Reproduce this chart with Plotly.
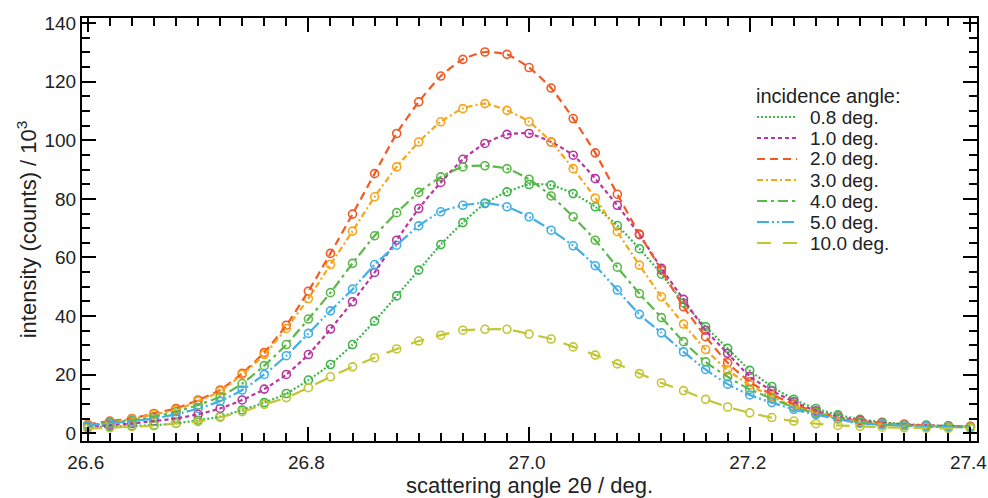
import plotly.graph_objects as go

# scattering angle grid (deg.)
two_theta = [round(26.60 + 0.02 * k, 2) for k in range(41)]

# measured intensities (counts / 10^3) for each incidence angle
inc_0p8 = [1.9, 2.3, 2.6, 2.8, 3.4, 4.5, 5.7, 8.0, 10.5, 13.6, 18.2, 23.5, 30.3, 38.3,
           46.9, 55.7, 64.4, 71.9, 78.4, 82.4, 84.9, 84.7, 81.8, 77.3,
           70.9, 63.0, 54.3, 44.5, 36.4, 29.0, 21.5, 16.0, 11.6, 8.5,
           6.3, 4.8, 3.8, 3.2, 2.8, 2.6, 2.4]
inc_1p0 = [2.3, 2.8, 3.4, 4.2, 5.1, 6.5, 8.5, 11.4, 15.1, 20.1, 26.9, 35.6, 44.9, 54.9,
           65.9, 76.7, 85.6, 93.5, 98.9, 102.0, 102.3, 99.4, 94.9, 86.9,
           77.8, 67.8, 56.3, 45.7, 35.2, 27.3, 19.5, 14.6, 10.8, 7.7,
           5.6, 4.4, 3.5, 3.0, 2.7, 2.5, 2.3]
inc_2p0 = [3.1, 4.2, 5.1, 6.8, 8.5, 11.4, 14.8, 20.5, 27.6, 36.9, 48.5, 61.4, 74.8, 88.6,
           102.3, 113.1, 121.9, 127.6, 130.1, 129.3, 124.8, 117.8, 107.4, 95.7,
           81.6, 68.0, 55.7, 43.2, 33.0, 24.1, 17.6, 13.3, 10.0, 7.3,
           5.4, 4.2, 3.4, 2.9, 2.6, 2.4, 2.3]
inc_3p0 = [2.8, 3.75, 4.9, 6.5, 8.0, 11.0, 14.4, 20.1, 26.9, 35.8, 46.0, 57.6, 69.0, 80.7,
           90.9, 99.4, 106.3, 110.8, 112.5, 110.2, 106.3, 99.4, 90.3, 80.3,
           68.8, 57.4, 46.6, 37.3, 28.6, 21.6, 16.5, 12.5, 9.2, 7.0,
           5.2, 3.9, 3.2, 2.8, 2.5, 2.3, 2.2]
inc_4p0 = [2.6, 3.75, 4.5, 5.7, 7.4, 9.7, 12.5, 17.0, 23.1, 30.3, 39.0, 48.0, 58.0, 67.4,
           75.3, 82.2, 87.5, 90.9, 91.3, 90.3, 86.7, 81.0, 73.9, 65.9,
           56.7, 47.7, 39.5, 31.3, 24.4, 19.3, 15.0, 11.9, 8.9, 6.9,
           5.1, 3.7, 3.0, 2.7, 2.4, 2.2, 2.1]
inc_5p0 = [2.6, 3.4, 4.2, 5.1, 6.5, 8.5, 11.0, 14.8, 20.1, 26.5, 34.1, 41.8, 49.2, 57.6,
           64.2, 70.8, 75.6, 77.8, 78.6, 77.3, 73.9, 69.3, 64.0, 57.2,
           48.9, 40.6, 34.3, 27.8, 21.8, 16.8, 13.1, 10.5, 8.2, 6.4,
           4.9, 3.4, 2.9, 2.6, 2.3, 2.1, 2.0]
inc_10p0 = [1.7, 1.9, 2.3, 2.6, 3.4, 4.0, 5.5, 7.4, 9.9, 12.2, 15.6, 19.3, 22.7, 25.8,
            28.8, 31.5, 33.5, 35.2, 35.5, 35.5, 33.9, 32.2, 29.5, 26.7,
            23.7, 20.4, 17.2, 14.6, 11.6, 9.0, 7.0, 5.4, 4.2, 3.3,
            2.7, 2.4, 2.1, 1.9, 1.8, 1.7, 1.7]

legend_title = "incidence angle:"
labels = ["0.8 deg.", "1.0 deg.", "2.0 deg.", "3.0 deg.", "4.0 deg.", "5.0 deg.", "10.0 deg."]
series = [inc_0p8, inc_1p0, inc_2p0, inc_3p0, inc_4p0, inc_5p0, inc_10p0]
colors = ["#3fb54b", "#b8369f", "#f25a24", "#f7a51c", "#5ab947", "#43afe6", "#c3c634"]
dashes = ["2px,2px", "4px,3px", "8px,5px", "6px,3px,2px,3px",
          "10px,4px,3px,4px", "12px,3px,2px,3px,2px,3px", "14px,12px"]

FONT = "Liberation Sans, Arial, Helvetica, sans-serif"
TXT = "#222222"

W, H = 988, 498
ML, MR, MT, MB = 82, 11, 18, 57
PW, PH = W - ML - MR, H - MT - MB


def px_to_paper(px, py):
    return (px - ML) / PW, 1 - (py - MT) / PH


fig = go.Figure()

# open-circle markers
for ys, col in zip(series, colors):
    fig.add_trace(go.Scatter(
        x=two_theta, y=ys, mode="markers", showlegend=False, hoverinfo="skip",
        marker=dict(symbol="circle-open", size=8, color=col, line=dict(width=1.6, color=col)),
    ))

# smooth styled curves through the points
for ys, col, dsh, lab in zip(series, colors, dashes, labels):
    fig.add_trace(go.Scatter(
        x=two_theta, y=ys, mode="lines", name=lab, showlegend=False,
        line=dict(color=col, width=2.2, dash=dsh, shape="spline", smoothing=0.6),
    ))

# compact key in the upper right of the plot area
key_x0, key_x1, key_text_x = 757, 797, 808
key_title_y, key_row0, key_step = 96, 117, 21
tx, ty = px_to_paper(754, key_title_y)
fig.add_annotation(x=tx, y=ty, xref="paper", yref="paper", text=legend_title, showarrow=False,
                   xanchor="left", yanchor="middle", font=dict(family=FONT, size=20, color=TXT))
for k, (lab, col, dsh) in enumerate(zip(labels, colors, dashes)):
    row_y = key_row0 + key_step * k
    sx0, sy = px_to_paper(key_x0, row_y)
    sx1, _ = px_to_paper(key_x1, row_y)
    fig.add_shape(type="line", xref="paper", yref="paper", x0=sx0, x1=sx1, y0=sy, y1=sy,
                  line=dict(color=col, width=2.2, dash=dsh))
    lx, ly = px_to_paper(key_text_x, row_y)
    fig.add_annotation(x=lx, y=ly, xref="paper", yref="paper", text=lab, showarrow=False,
                       xanchor="left", yanchor="middle", font=dict(family=FONT, size=19, color=TXT))

axis_common = dict(
    showline=True, linecolor="black", linewidth=2, mirror="ticks",
    ticks="inside", tickcolor="black", tickwidth=2, ticklen=14,
    showgrid=False, zeroline=False, automargin=False,
    ticklabeloverflow="allow",
    tickfont=dict(family=FONT, size=19, color=TXT),
)

fig.update_xaxes(
    range=[26.5948, 27.406], tick0=26.6, dtick=0.2, tickformat=".1f",
    minor=dict(dtick=0.02, ticks="inside", ticklen=8, tickwidth=1.5, tickcolor="black"),
    ticklabelstandoff=3, ticklabelshift=-2,
    title=dict(text="scattering angle 2θ / deg.", font=dict(family=FONT, size=22, color=TXT),
               standoff=4),
    **axis_common,
)
fig.update_yaxes(
    range=[-2.6, 141.7], tick0=0, dtick=20,
    minor=dict(dtick=5, ticks="inside", ticklen=8, tickwidth=1.5, tickcolor="black"),
    title=dict(text="intensity (counts) / 10<sup>3</sup>", font=dict(family=FONT, size=22, color=TXT),
               standoff=2),
    **axis_common,
)

fig.update_layout(
    width=W, height=H,
    margin=dict(l=ML, r=MR, t=MT, b=MB),
    paper_bgcolor="white", plot_bgcolor="white",
    font=dict(family=FONT, size=19, color=TXT),
    showlegend=False,
)

fig.write_html("out.html")
